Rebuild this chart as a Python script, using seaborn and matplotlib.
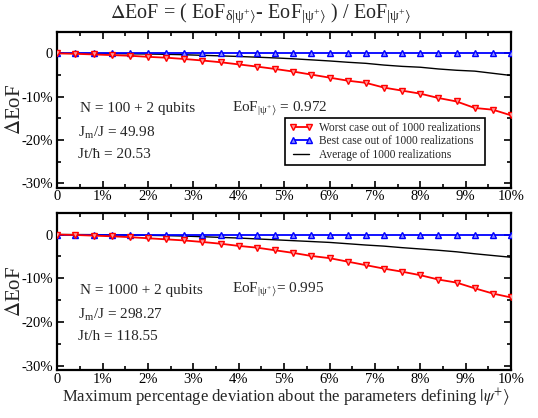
import numpy as np
import pandas as pd
import matplotlib
matplotlib.use("Agg")
import matplotlib.pyplot as plt
import seaborn as sns
from matplotlib.ticker import MultipleLocator, FuncFormatter

# ---- data (percent units) ----
deviation = [0.0, 0.4, 0.8, 1.2, 1.6, 2.0, 2.4, 2.8, 3.2, 3.6, 4.0, 4.4, 4.8,
             5.2, 5.6, 6.0, 6.4, 6.8, 7.2, 7.6, 8.0, 8.4, 8.8, 9.2, 9.6, 10.0]

worst_top = [0.0, -0.1, -0.25, -0.4, -0.55, -0.8, -1.0, -1.3, -1.65, -2.05, -2.55, -3.05, -3.6,
             -4.2, -4.9, -5.6, -6.3, -6.8, -7.9, -8.6, -9.3, -10.3, -11.1, -12.6, -13.0, -14.3]
best_top = [0.0] * 26
avg_top = [0.0, 0.0, -0.02, -0.05, -0.1, -0.15, -0.22, -0.32, -0.45, -0.58, -0.72, -0.88, -1.05,
           -1.25, -1.5, -1.75, -2.05, -2.3, -2.7, -3.0, -3.2, -3.6, -3.9, -4.1, -4.6, -5.1]

worst_bot = [0.0, -0.1, -0.25, -0.4, -0.6, -0.85, -1.1, -1.35, -1.7, -2.1, -2.6, -3.0, -3.6,
             -4.2, -4.9, -5.4, -6.2, -7.0, -7.8, -8.5, -9.3, -10.3, -11.0, -12.3, -13.5, -14.4]
best_bot = [0.0] * 26
avg_bot = [0.0, 0.0, -0.02, -0.05, -0.1, -0.18, -0.25, -0.35, -0.5, -0.65, -0.8, -1.0, -1.2,
           -1.4, -1.6, -1.8, -2.1, -2.4, -2.65, -3.0, -3.3, -3.6, -3.95, -4.4, -4.8, -5.2]

labels = ["Worst case out of 1000 realizations",
          "Best case out of 1000 realizations",
          "Average of 1000 realizations"]

top_notes = ["N = 100 + 2 qubits", r"J$_\mathregular{m}$/J = 49.98", "Jt/ħ = 20.53",
             r"EoF$_{\mathregular{|\psi^{+}\rangle}}$ = 0.972"]
bot_notes = ["N = 1000 + 2 qubits", r"J$_\mathregular{m}$/J = 298.27", "Jt/h = 118.55",
             r"EoF$_{\mathregular{|\psi^{+}\rangle}}$= 0.995"]

title = (r"$\Delta$EoF = ( EoF$_{\mathregular{\delta|\psi^{+}\rangle}}$- EoF$_{\mathregular{|\psi^{+}\rangle}}$ )"
         r" / EoF$_{\mathregular{|\psi^{+}\rangle}}$")
xlabel = r"Maximum percentage deviation about the parameters defining $|\psi^{+}\rangle$"
ylabel = r"$\Delta$EoF"

sns.set_theme(style="ticks")
plt.rcParams["font.family"] = ["Liberation Serif", "DejaVu Serif"]
plt.rcParams["mathtext.fontset"] = "stix"
plt.rcParams["axes.unicode_minus"] = False

fig = plt.figure(figsize=(5.38, 4.18), dpi=100)
fig.patch.set_facecolor("white")
L, R = 57.3 / 538, 511 / 538
ax1 = fig.add_axes([L, 1 - 187.7 / 418, R - L, (187.7 - 31.7) / 418])
ax2 = fig.add_axes([L, 1 - 370 / 418, R - L, (370 - 212.7) / 418])


def pct(v, pos):
    if abs(v) < 1e-9:
        return "0"
    return "%d%%" % int(round(v))


def draw(ax, worst, best, avg, notes, show_legend):
    df = pd.DataFrame({"x": deviation, "worst": worst, "best": best, "avg": avg})
    sns.lineplot(data=df, x="x", y="avg", ax=ax, color="black", linewidth=1.0,
                 label=labels[2], zorder=2)
    sns.lineplot(data=df, x="x", y="best", ax=ax, color="blue", linewidth=1.3,
                 marker="^", markersize=4.8, markeredgecolor="blue",
                 markerfacecolor="#8c8cff", markeredgewidth=1.0, label=labels[1], zorder=3)
    sns.lineplot(data=df, x="x", y="worst", ax=ax, color="red", linewidth=1.3,
                 marker="v", markersize=4.8, markeredgecolor="red",
                 markerfacecolor="#ff9c9c", markeredgewidth=1.0, label=labels[0], zorder=3)
    ax.set_xlim(0, 10)
    ax.set_ylim(-31, 5)
    ax.xaxis.set_major_locator(MultipleLocator(1))
    ax.xaxis.set_minor_locator(MultipleLocator(0.5))
    ax.yaxis.set_major_locator(MultipleLocator(10))
    ax.yaxis.set_minor_locator(MultipleLocator(5))
    ax.xaxis.set_major_formatter(FuncFormatter(pct))
    ax.yaxis.set_major_formatter(FuncFormatter(pct))
    ax.tick_params(which="both", direction="in", top=True, right=True, width=1.2,
                   labelsize=10.5, colors="black")
    ax.tick_params(axis="x", pad=2)
    ax.tick_params(axis="y", pad=3)
    ax.tick_params(which="major", length=5)
    ax.tick_params(which="minor", length=3)
    for s in ax.spines.values():
        s.set_linewidth(1.6)
        s.set_color("black")
    ax.set_xlabel("")
    ax.set_ylabel(ylabel, fontsize=15)
    ax.yaxis.set_label_coords(-0.072, 0.5)
    ax.text(0.5, -12.7, notes[0], fontsize=11, va="center", ha="left")
    ax.text(0.45, -18.3, notes[1], fontsize=11, va="center", ha="left")
    ax.text(0.45, -23.3, notes[2], fontsize=11, va="center", ha="left")
    ax.text(3.85, -12.7, notes[3], fontsize=11, va="center", ha="left")
    if show_legend:
        h, l = ax.get_legend_handles_labels()
        order = [l.index(t) for t in labels]
        ax.legend([h[i] for i in order], [l[i] for i in order], loc="lower left",
                  bbox_to_anchor=(0.49, 0.11), fontsize=8.3, numpoints=2,
                  handlelength=2.0, handletextpad=0.6, borderpad=0.35,
                  labelspacing=0.12, frameon=True, fancybox=False,
                  edgecolor="black", framealpha=1)
        ax.get_legend().get_frame().set_linewidth(1.2)
    else:
        lg = ax.get_legend()
        if lg is not None:
            lg.remove()


draw(ax1, worst_top, best_top, avg_top, top_notes, True)
draw(ax2, worst_bot, best_bot, avg_bot, bot_notes, False)

fig.text(0.485, 1 - 18 / 418, title, fontsize=14.5, ha="center", va="baseline")
fig.text((L + R) / 2 + 0.003, 1 - 402 / 418, xlabel, fontsize=12, ha="center", va="baseline")

fig.savefig("out.png", dpi=100, facecolor="white")
